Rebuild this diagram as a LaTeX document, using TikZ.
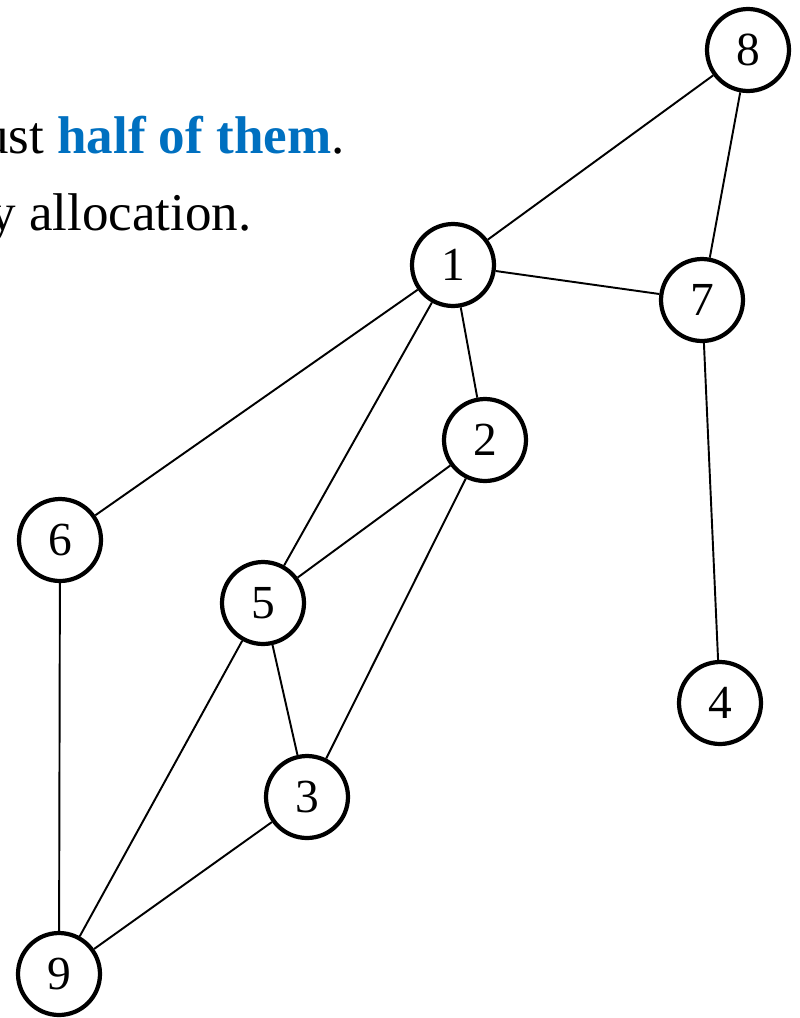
\documentclass[tikz,border=0pt]{standalone}
\usepackage{fontspec}
\setmainfont{Liberation Serif}
\definecolor{hlblue}{RGB}{0,112,192}
\begin{document}
\begin{tikzpicture}[x=0.02cm,y=-0.02cm,
    vertex/.style={circle,draw,line width=2.4pt,minimum size=1.64cm,inner sep=0pt,
      font=\fontsize{27}{32}\selectfont},
    edge/.style={line width=1.1pt},
    textline/.style={anchor=base east,inner sep=0pt,font=\fontsize{30.2}{36}\selectfont}]
        \useasboundingbox (0,0) rectangle (800,1018);
        \clip (0,0) rectangle (800,1018);
        % text lines
        \node[textline] at (345,153) (line1)
          {ust \textcolor{hlblue}{\textbf{half of them}}.};
        \node[textline] at (252,230) (line2) {y allocation.};
        % vertices
        \node[vertex] at (748, 50) (n8) {8};
        \node[vertex] at (453,265) (n1) {1};
        \node[vertex] at (702,300) (n7) {7};
        \node[vertex] at (485,440) (n2) {2};
        \node[vertex] at ( 60,540) (n6) {6};
        \node[vertex] at (263,603) (n5) {5};
        \node[vertex] at (720,703) (n4) {4};
        \node[vertex] at (307,797) (n3) {3};
        \node[vertex] at ( 59,974) (n9) {9};
        % edges
        \draw[edge] (n8) -- (n1);
        \draw[edge] (n8) -- (n7);
        \draw[edge] (n1) -- (n7);
        \draw[edge] (n1) -- (n6);
        \draw[edge] (n1) -- (n5);
        \draw[edge] (n1) -- (n2);
        \draw[edge] (n2) -- (n5);
        \draw[edge] (n2) -- (n3);
        \draw[edge] (n7) -- (n4);
        \draw[edge] (n6) -- (n9);
        \draw[edge] (n5) -- (n9);
        \draw[edge] (n5) -- (n3);
        \draw[edge] (n3) -- (n9);
      \end{tikzpicture}
\end{document}
